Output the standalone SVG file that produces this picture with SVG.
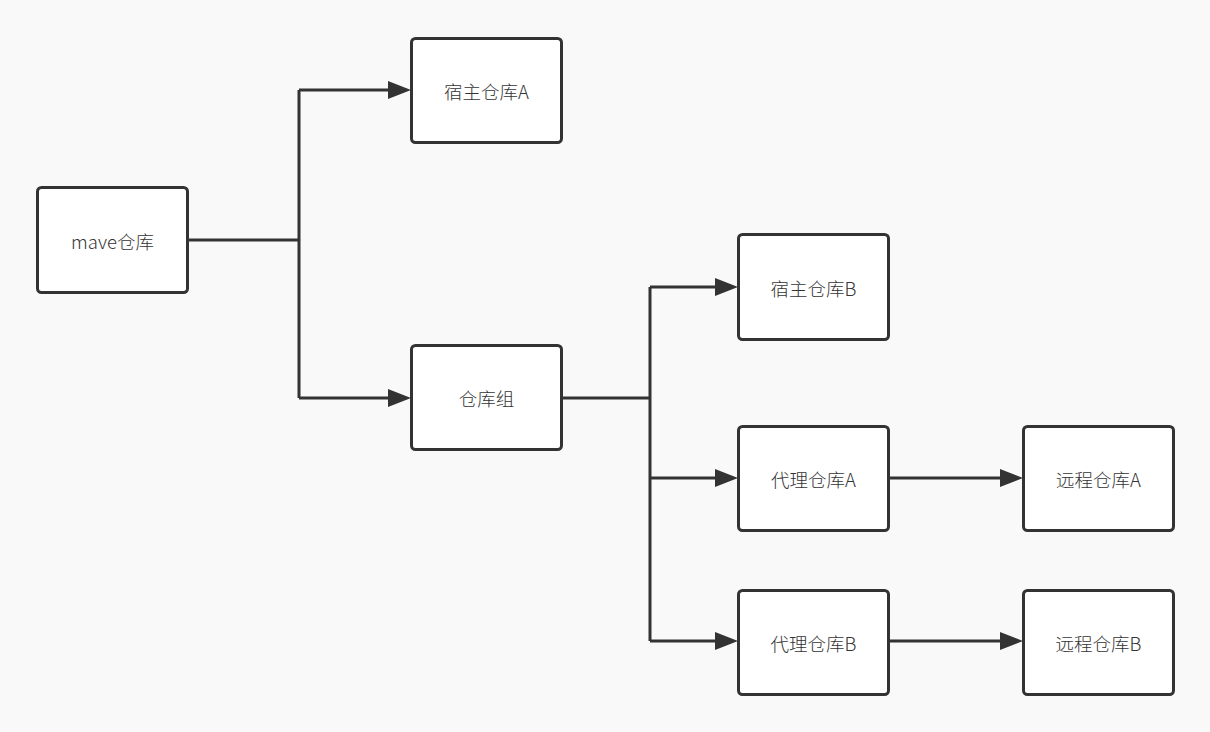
<svg xmlns="http://www.w3.org/2000/svg" width="1210" height="732" viewBox="0 0 1210 732">
<defs>
<style>
.box{fill:#ffffff;stroke:#333333;stroke-width:3}
.lbl{font-family:"Noto Sans CJK SC","Noto Sans",sans-serif;font-size:18.5px;font-weight:300;fill:#333333;text-anchor:middle;dominant-baseline:central}
.ln{fill:none;stroke:#333333;stroke-width:3}
.ah{fill:#333333}
</style>
</defs>
<rect width="1210" height="732" fill="#f9f9f9"/>
<g id="connectors">
<path class="ln" d="M187,240 H299 M299,90 V398 M299,90 H390 M299,398 H390"/>
<path class="ln" d="M561,398 H650 M650,287 V641 M650,287 H717 M650,478 H717 M650,641 H717"/>
<path class="ln" d="M888,478 H1002 M888,641 H1002"/>
<path class="ah" d="M388,81 L411,90 L388,99 Z M388,389 L411,398 L388,407 Z"/>
<path class="ah" d="M715,278 L738,287 L715,296 Z M715,469 L738,478 L715,487 Z M715,632 L738,641 L715,650 Z"/>
<path class="ah" d="M1000,469 L1023,478 L1000,487 Z M1000,632 L1023,641 L1000,650 Z"/>
</g>
<g id="mave"><rect class="box" x="37.5" y="187.5" width="150" height="105" rx="4"/><text class="lbl" x="112.5" y="240.5">mave仓库</text></g>
<g id="hostA"><rect class="box" x="411.5" y="38.5" width="150" height="104" rx="4"/><text class="lbl" x="486.5" y="91">宿主仓库A</text></g>
<g id="group"><rect class="box" x="411.5" y="345.5" width="150" height="104" rx="4"/><text class="lbl" x="486.5" y="398">仓库组</text></g>
<g id="hostB"><rect class="box" x="738.5" y="234.5" width="150" height="105" rx="4"/><text class="lbl" x="813.5" y="287.5">宿主仓库B</text></g>
<g id="proxyA"><rect class="box" x="738.5" y="426.5" width="150" height="104" rx="4"/><text class="lbl" x="813.5" y="479">代理仓库A</text></g>
<g id="remoteA"><rect class="box" x="1023.5" y="426.5" width="150" height="104" rx="4"/><text class="lbl" x="1098.5" y="479">远程仓库A</text></g>
<g id="proxyB"><rect class="box" x="738.5" y="590.5" width="150" height="104" rx="4"/><text class="lbl" x="813.5" y="642.5">代理仓库B</text></g>
<g id="remoteB"><rect class="box" x="1023.5" y="590.5" width="150" height="104" rx="4"/><text class="lbl" x="1098.5" y="642.5">远程仓库B</text></g>
</svg>
